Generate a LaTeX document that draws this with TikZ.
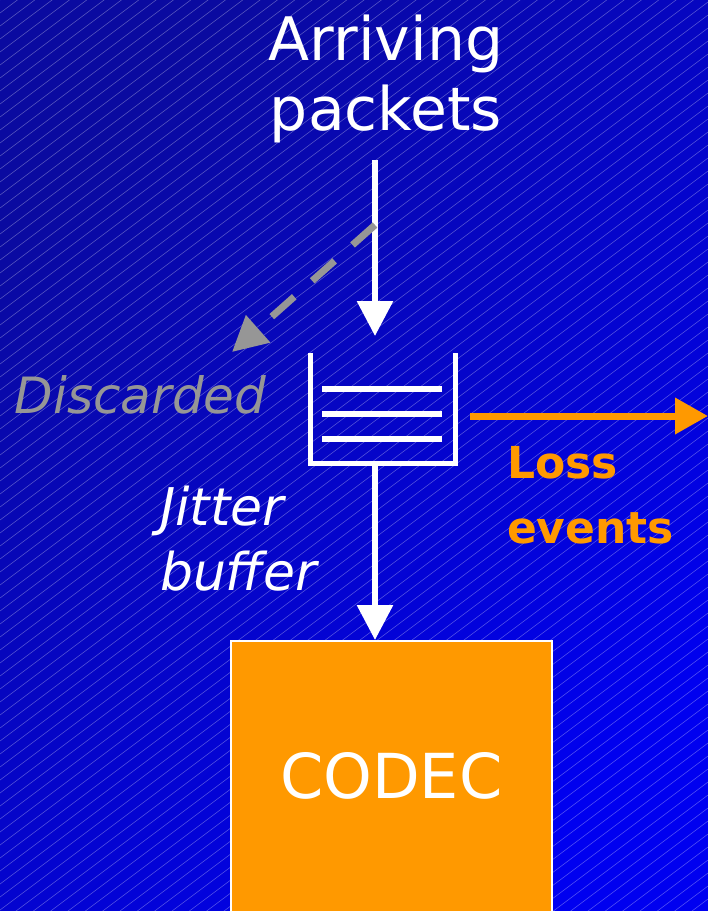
\documentclass[tikz,border=0pt]{standalone}
\usepackage{fontspec}
\setmainfont{DejaVu Sans}
\usetikzlibrary{arrows.meta}
\definecolor{bgdark}{RGB}{10,10,160}
\definecolor{bglight}{RGB}{0,0,240}
\definecolor{codecorange}{RGB}{255,153,0}
\definecolor{discardgray}{RGB}{150,150,150}
\tikzset{
  hatchline/.style={draw=white, draw opacity=0.3, line width=0.6pt},
  flowarrow/.style={draw=white, line width=6pt, -{Triangle[width=35pt,length=35pt]}},
  lossarrow/.style={draw=codecorange, line width=7pt, -{Triangle[width=35pt,length=33pt]}},
  discardarrow/.style={draw=discardgray, line width=7pt, dash pattern=on 30pt off 24pt,
    -{Triangle[width=35pt,length=35pt]}},
  bufwall/.style={draw=white, line width=5pt, line join=miter},
  bufslot/.style={draw=white, line width=6pt},
  labeltext/.style={inner sep=0pt, outer sep=0pt},
}
\begin{document}
\begin{tikzpicture}[x=1pt,y=-1pt]
\useasboundingbox (0,0) rectangle (708,911);
\clip (0,0) rectangle (708,911);
% background with fine diagonal hatching
\shade[top color=bgdark, bottom color=bglight, shading angle=45] (0,0) rectangle (708,911);
\foreach \k in {0,...,112}
  \draw[hatchline] (0,{\k*13}) -- ++(708,-531);

% title (base anchor sits on the last line)
\node[labeltext, text=white, font=\fontsize{60}{70}\selectfont, align=center, anchor=base]
  (arriving) at (386,130) {Arriving\\packets};

% jitter buffer
\node[minimum width=145pt, minimum height=110pt, inner sep=0pt, outer sep=0pt]
  (buf) at (382.5,408) {};
\draw[bufwall] (buf.north west) -- (buf.south west) -- (buf.south east) -- (buf.north east);
\foreach \dy in {-19,6,31}
  \draw[bufslot] ([shift={(12,\dy)}]buf.west) -- ([shift={(-13,\dy)}]buf.east);

% codec
\node[draw=white, line width=1.5pt, fill=codecorange, minimum width=321pt,
  minimum height=300pt, anchor=north west, inner sep=0pt] (codec) at (230,640) {};
\node[labeltext, text=white, font=\fontsize{62}{70}\selectfont]
  (codeclabel) at ([yshift=15pt]codec.center) {CODEC};

% labels
\node[labeltext, text=discardgray, font=\fontsize{50}{60}\selectfont\itshape, anchor=base west]
  (discarded) at (15,413) {Discarded};
\node[labeltext, text=codecorange, font=\fontsize{44}{65}\selectfont\bfseries,
  align=left, anchor=base west] (loss) at (507,543) {Loss\\events};
\node[labeltext, text=white, font=\fontsize{52}{65}\selectfont\itshape,
  align=left, anchor=base west] (jitter) at (160,590) {Jitter\\buffer};

% connectors
\coordinate (inflow) at (375,160);
\coordinate (branch) at (375,225);
\coordinate (lossend) at (708,416);
\draw[flowarrow, shorten >=17pt] (inflow) -- (inflow |- buf.north);
\draw[discardarrow] (branch) -- ([shift={(217,-61)}]discarded.base west);
\draw[flowarrow] (buf.south -| inflow) -- (codec.north -| inflow);
\draw[lossarrow] ([shift={(15,8)}]buf.east) -- (lossend);
\end{tikzpicture}
\end{document}
